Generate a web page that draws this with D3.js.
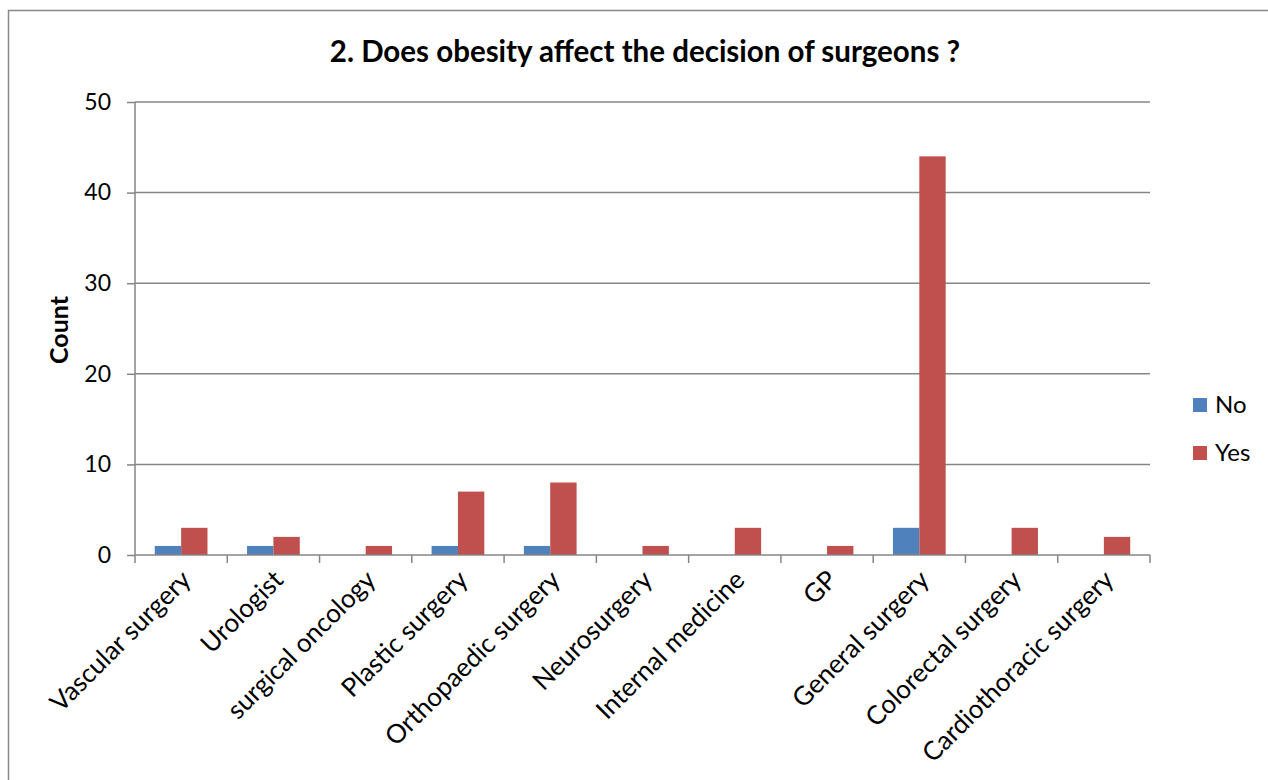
<!DOCTYPE html>
<html>
<head>
<meta charset="utf-8">
<script src="https://cdn.jsdelivr.net/npm/d3@7"></script>
<style>
  body { margin: 0; background: #fff; }
  text { font-family: Lato, "Open Sans", sans-serif; fill: #000; }
</style>
</head>
<body>
<svg id="chart" width="1268" height="780"></svg>
<script>
// data
const categories = ["Vascular surgery", "Urologist", "surgical oncology", "Plastic surgery",
  "Orthopaedic surgery", "Neurosurgery", "Internal medicine", "GP", "General surgery",
  "Colorectal surgery", "Cardiothoracic surgery"];
const seriesNames = ["No", "Yes"];
const noValues = [1, 1, 0, 1, 1, 0, 0, 0, 3, 0, 0];
const yesValues = [3, 2, 1, 7, 8, 1, 3, 1, 44, 3, 2];
const yTicks = [0, 10, 20, 30, 40, 50];
const colors = ["#4F81BD", "#C0504D"];

const svg = d3.select("#chart");
const margin = { top: 102, left: 135, right: 1150, bottom: 555 };
const gridColor = "#868686";

// outer chart border
svg.append("rect")
  .attr("x", 8.5).attr("y", 10.5)
  .attr("width", 1300).attr("height", 800)
  .attr("fill", "none").attr("stroke", "#888").attr("stroke-width", 1.5);

const x = d3.scaleBand()
  .domain(categories)
  .range([margin.left, margin.right]);
// Excel style: gap width 150% -> each bar = band / 3.5
const x1 = d3.scaleBand()
  .domain(seriesNames)
  .range([0, x.bandwidth()])
  .paddingInner(0)
  .paddingOuter(0.75);

const y = d3.scaleLinear()
  .domain([0, 50])
  .range([margin.bottom, margin.top]);

// gridlines
svg.append("g")
  .selectAll("line")
  .data(yTicks.filter(d => d > 0))
  .join("line")
  .attr("x1", margin.left).attr("x2", margin.right)
  .attr("y1", d => y(d)).attr("y2", d => y(d))
  .attr("stroke", gridColor).attr("stroke-width", 1.5);

// bars
const data = categories.map((c, i) => ({ cat: c, vals: [noValues[i], yesValues[i]] }));
svg.append("g")
  .selectAll("g")
  .data(data)
  .join("g")
  .attr("transform", d => `translate(${x(d.cat)},0)`)
  .selectAll("rect")
  .data(d => d.vals.map((v, j) => ({ key: seriesNames[j], v: v, j: j })))
  .join("rect")
  .attr("x", d => x1(d.key))
  .attr("width", x1.bandwidth())
  .attr("y", d => y(d.v))
  .attr("height", d => y(0) - y(d.v))
  .attr("fill", d => colors[d.j]);

// y axis
const yAxis = svg.append("g")
  .attr("transform", `translate(${margin.left},0)`)
  .call(d3.axisLeft(y).tickValues(yTicks).tickSize(8).tickPadding(16).tickFormat(d3.format("d")));
yAxis.select(".domain").attr("stroke", gridColor).attr("stroke-width", 1.5).attr("d", `M0,${margin.top}V${margin.bottom}`);
yAxis.selectAll(".tick line").attr("stroke", gridColor).attr("stroke-width", 1.5);
yAxis.selectAll("text").style("font-size", "23px").attr("fill", "#000");

// x axis with ticks at band boundaries
const xAxis = svg.append("g")
  .attr("transform", `translate(0,${margin.bottom})`);
xAxis.append("line")
  .attr("x1", margin.left).attr("x2", margin.right)
  .attr("stroke", gridColor).attr("stroke-width", 1.5);
xAxis.selectAll("line.tk")
  .data(categories.map(c => x(c)).concat([margin.right]))
  .join("line")
  .attr("class", "tk")
  .attr("x1", d => d).attr("x2", d => d)
  .attr("y1", 0).attr("y2", 8)
  .attr("stroke", gridColor).attr("stroke-width", 1.5);
xAxis.selectAll("text")
  .data(categories)
  .join("text")
  .attr("transform", d => `translate(${x(d) + x.bandwidth() / 2 + 5},${20}) rotate(-45)`)
  .attr("text-anchor", "end")
  .attr("dy", "0.35em")
  .style("font-size", "26px")
  .text(d => d);

// title
svg.append("text")
  .attr("x", 645).attr("y", 62)
  .attr("text-anchor", "middle")
  .style("font-size", "29.5px").style("font-weight", "bold")
  .text("2. Does obesity affect the decision of surgeons ?");

// y axis title
svg.append("text")
  .attr("transform", `translate(68,330) rotate(-90)`)
  .attr("text-anchor", "middle")
  .style("font-size", "25px").style("font-weight", "bold")
  .text("Count");

// legend
const legend = svg.append("g")
  .selectAll("g")
  .data(seriesNames)
  .join("g")
  .attr("transform", (d, i) => `translate(1193,${398 + i * 48})`);
legend.append("rect")
  .attr("width", 14).attr("height", 14)
  .attr("fill", (d, i) => colors[i]);
legend.append("text")
  .attr("x", 22).attr("y", 7).attr("dy", "0.35em")
  .style("font-size", "24px")
  .text(d => d);
</script>
</body>
</html>
